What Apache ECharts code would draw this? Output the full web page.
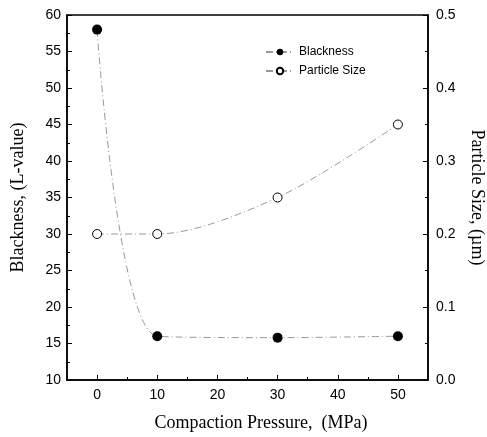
<!DOCTYPE html>
<html>
<head>
<meta charset="utf-8">
<script src="https://cdn.jsdelivr.net/npm/echarts@6/dist/echarts.min.js"></script>
<style>
  html, body { margin: 0; padding: 0; background: #fff; }
  #chart { width: 487px; height: 437px; }
</style>
</head>
<body>
<div id="chart"></div>
<script>
// 数据
var pressure = [0, 10, 30, 50];
var blackness = [58, 16, 15.8, 16];
var particleSize = [0.2, 0.2, 0.25, 0.35];
var xTicks = [0, 10, 20, 30, 40, 50];
var xMinorTicks = [5, 15, 25, 35, 45];

var tickFont = { color: '#000', fontFamily: 'Liberation Sans', fontSize: 14 };
var titleFont = { color: '#000', fontFamily: 'Liberation Serif', fontSize: 18 };

var myChart = echarts.init(document.getElementById('chart'));

var option = {
	animation: false,
	backgroundColor: '#fff',
	grid: {
		show: true,
		left: 67,
		right: 59,
		top: 15,
		bottom: 57,
		outerBoundsMode: 'none',
		borderColor: '#000',
		borderWidth: 1.5,
		backgroundColor: 'transparent'
	},
	legend: {
		orient: 'vertical',
		left: 260,
		top: 41,
		itemWidth: 28,
		itemHeight: 8,
		itemGap: 7,
		textStyle: { color: '#000', fontFamily: 'Liberation Sans', fontSize: 12 },
		data: ['Blackness', 'Particle Size']
	},
	xAxis: [
		{
			type: 'value',
			min: -5,
			max: 55,
			name: 'Compaction Pressure,  (MPa)',
			nameLocation: 'middle',
			nameGap: 34,
			nameTextStyle: Object.assign({ padding: [0, 0, 0, 27] }, titleFont),
			axisLine: { onZero: false, lineStyle: { color: '#000', width: 1.5 } },
			axisTick: { inside: true, length: 5, customValues: xTicks, lineStyle: { color: '#000' } },
			axisLabel: Object.assign({ margin: 8, customValues: xTicks }, tickFont),
			splitLine: { show: false }
		},
		{
			// 次刻度
			type: 'value',
			position: 'bottom',
			min: -5,
			max: 55,
			axisLine: { show: false, onZero: false },
			axisTick: { inside: true, length: 3, customValues: xMinorTicks, lineStyle: { color: '#000' } },
			axisLabel: { show: false },
			splitLine: { show: false }
		}
	],
	yAxis: [
		{
			type: 'value',
			min: 10,
			max: 60,
			interval: 5,
			position: 'left',
			name: 'Blackness, (L-value)',
			nameLocation: 'middle',
			nameRotate: 90,
			nameGap: 40,
			nameTextStyle: titleFont,
			axisLine: { show: true, onZero: false, lineStyle: { color: '#000', width: 1.5 } },
			axisTick: { inside: true, length: 5, lineStyle: { color: '#000' } },
			minorTick: { show: true, splitNumber: 2, length: 3, lineStyle: { color: '#000' } },
			axisLabel: Object.assign({ margin: 6 }, tickFont),
			splitLine: { show: false }
		},
		{
			type: 'value',
			min: 0,
			max: 0.5,
			interval: 0.1,
			position: 'right',
			name: 'Particle Size, (\u00b5m)',
			nameLocation: 'middle',
			nameRotate: -90,
			nameGap: 40,
			nameTextStyle: titleFont,
			axisLine: { show: true, onZero: false, lineStyle: { color: '#000', width: 1.5 } },
			axisTick: { inside: true, length: 5, lineStyle: { color: '#000' } },
			minorTick: { show: true, splitNumber: 2, length: 3, lineStyle: { color: '#000' } },
			axisLabel: Object.assign({
				margin: 8,
				formatter: function (v) { return v.toFixed(1); }
			}, tickFont),
			splitLine: { show: false }
		}
	],
	series: [
		{
			name: 'Blackness',
			type: 'line',
			xAxisIndex: 0,
			yAxisIndex: 0,
			smooth: 0.3,
			symbol: 'circle',
			symbolSize: 10,
			itemStyle: { color: '#000' },
			lineStyle: { color: '#999', width: 1, type: [7, 3, 1, 3] },
			data: pressure.map(function (p, i) { return [p, blackness[i]]; })
		},
		{
			name: 'Particle Size',
			type: 'line',
			xAxisIndex: 0,
			yAxisIndex: 1,
			smooth: 0.3,
			symbol: 'circle',
			symbolSize: 9,
			itemStyle: { color: '#fff', borderColor: '#000', borderWidth: 1 },
			lineStyle: { color: '#999', width: 1, type: [7, 3, 1, 3] },
			data: pressure.map(function (p, i) { return [p, particleSize[i]]; })
		}
	]
};

myChart.setOption(option);
</script>
</body>
</html>
